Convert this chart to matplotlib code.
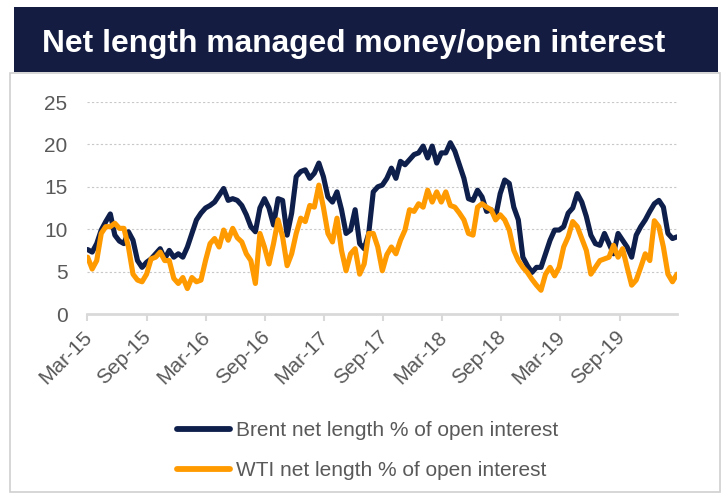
import matplotlib
matplotlib.use("Agg")
import matplotlib.pyplot as plt
import matplotlib.transforms as mtransforms
from matplotlib.patches import Rectangle
import pandas as pd

title = "Net length managed money/open interest"
series_names = ["Brent net length % of open interest", "WTI net length % of open interest"]

dates = pd.date_range("2015-03-03", periods=131, freq="14D")

brent = [7.6, 7.3, 8.3, 9.9, 10.9, 11.8, 9.3, 8.6, 8.3, 9.7,
         8.7, 6.3, 5.5, 6.1, 6.5, 7.1, 7.7, 6.5, 7.5, 6.7,
         7.1, 6.7, 7.9, 9.5, 11.1, 11.9, 12.5, 12.8, 13.2, 14.0,
         14.8, 13.4, 13.6, 13.4, 12.8, 11.7, 10.3, 9.7, 12.5, 13.6,
         12.5, 10.5, 13.6, 13.4, 9.3, 11.9, 16.2, 16.8, 17.0, 16.0,
         16.6, 17.8, 16.2, 13.8, 13.2, 14.4, 12.3, 9.5, 9.9, 12.3,
         8.3, 7.7, 9.5, 14.4, 15.0, 15.2, 16.0, 17.2, 16.0, 18.0,
         17.6, 18.2, 18.8, 19.0, 19.8, 18.4, 19.8, 17.8, 19.0, 19.0,
         20.2, 19.2, 17.6, 16.0, 13.6, 13.4, 14.6, 13.8, 12.1, 12.3,
         11.5, 14.2, 15.8, 15.4, 12.6, 11.1, 6.7, 5.7, 4.9, 5.5,
         5.5, 7.1, 8.7, 9.9, 9.9, 10.3, 11.9, 12.5, 14.2, 13.2,
         11.5, 9.3, 8.3, 8.1, 9.5, 8.3, 7.1, 9.5, 8.7, 7.9,
         6.7, 9.3, 10.3, 11.1, 12.1, 13.0, 13.4, 12.6, 9.5, 8.9,
         9.1]

wti = [6.7, 5.3, 6.3, 9.5, 10.3, 10.3, 10.7, 10.1, 10.1, 7.9,
       4.7, 4.0, 3.8, 4.7, 6.5, 6.7, 7.3, 6.3, 6.3, 4.2,
       3.6, 4.3, 3.0, 4.3, 3.8, 4.0, 6.3, 8.3, 8.9, 7.9,
       9.9, 8.7, 10.1, 9.0, 8.5, 7.1, 6.3, 3.6, 9.5, 7.9,
       5.9, 8.3, 11.1, 9.1, 5.7, 7.1, 9.5, 11.3, 10.9, 12.8,
       12.6, 15.2, 12.6, 9.5, 8.5, 11.3, 7.5, 5.1, 7.1, 7.7,
       4.7, 5.9, 9.5, 9.5, 7.9, 5.1, 7.0, 7.9, 7.1, 8.7,
       9.9, 12.3, 12.1, 13.0, 12.6, 14.6, 13.2, 14.4, 13.2, 14.4,
       12.8, 12.6, 11.9, 11.1, 9.5, 9.3, 12.6, 13.0, 12.6, 12.3,
       11.1, 11.7, 11.1, 9.9, 7.5, 6.3, 5.5, 4.9, 4.1, 3.4,
       2.8, 4.7, 5.5, 4.5, 5.5, 7.9, 9.1, 10.9, 10.3, 8.9,
       7.5, 4.7, 5.5, 6.3, 6.5, 6.7, 8.1, 6.7, 7.7, 5.5,
       3.4, 4.0, 5.5, 7.1, 6.3, 11.0, 10.3, 7.9, 4.7, 3.8,
       4.7]

tick_dates = pd.to_datetime(["2015-03-01", "2015-09-01", "2016-03-01", "2016-09-01",
                             "2017-03-01", "2017-09-01", "2018-03-01", "2018-09-01",
                             "2019-03-01", "2019-09-01"])
tick_labels = ["Mar-15", "Sep-15", "Mar-16", "Sep-16", "Mar-17", "Sep-17",
               "Mar-18", "Sep-18", "Mar-19", "Sep-19"]
y_ticks = [0, 5, 10, 15, 20, 25]

NAVY = "#0f1f4b"
ORANGE = "#ff9a00"
BANNER = "#141c42"
GREY_TXT = "#595959"

plt.rcParams["font.family"] = ["Liberation Sans", "DejaVu Sans"]

W, H = 725, 493
fig = plt.figure(figsize=(W / 100, H / 100), dpi=100)

def fx(px):
    return px / W

def fy(py):
    return 1 - py / H

# outer light box
fig.patches.append(Rectangle((fx(10), fy(492)), fx(710), fy(73) - fy(492),
                             transform=fig.transFigure, facecolor="white",
                             edgecolor="#d0d0d0", linewidth=1.2, zorder=-2))
# title banner
fig.patches.append(Rectangle((fx(14), fy(72)), fx(704), fy(7) - fy(72),
                             transform=fig.transFigure, facecolor=BANNER,
                             edgecolor="none", zorder=-1))
fig.text(fx(42), fy(52), title, color="white", fontsize=22.9, fontweight="bold",
         ha="left", va="baseline")

ax = fig.add_axes([fx(87), fy(314), fx(677) - fx(87), fy(102) - fy(314)])
ax.set_zorder(2)
ax.set_facecolor("none")

l1, = ax.plot(dates, brent, color=NAVY, lw=3.7, solid_joinstyle="round",
              solid_capstyle="round", zorder=3, label=series_names[0])
l2, = ax.plot(dates, wti, color=ORANGE, lw=3.7, solid_joinstyle="round",
              solid_capstyle="round", zorder=4, label=series_names[1])

ax.set_ylim(0, 25)
ax.set_xlim(pd.Timestamp("2015-03-01"), pd.Timestamp("2020-02-25"))
ax.set_yticks(y_ticks)
ax.set_yticklabels([str(v) for v in y_ticks])
ax.set_xticks(tick_dates)
ax.set_xticklabels(tick_labels, rotation=45, ha="right", va="top",
                   rotation_mode="anchor")

for v in y_ticks[1:]:
    ax.axhline(v, color="#c8c8c8", lw=0.8, ls=(0, (2, 2)), zorder=1)

for s in ["left", "right", "top"]:
    ax.spines[s].set_visible(False)
ax.spines["bottom"].set_color("#d9d9d9")
ax.spines["bottom"].set_linewidth(2)

ax.tick_params(axis="y", length=0, pad=14, labelsize=15, labelcolor=GREY_TXT)
ax.tick_params(axis="x", length=5, width=1.5, color="#d9d9d9", pad=6,
               labelsize=15, labelcolor=GREY_TXT)

shift = mtransforms.ScaledTranslation(-5 / 100, 2 / 100, fig.dpi_scale_trans)
for lbl in ax.get_xticklabels():
    lbl.set_transform(lbl.get_transform() + shift)

leg = fig.legend(handles=[l1, l2], loc="upper left", bbox_to_anchor=(fx(167), fy(411)),
                 frameon=False, fontsize=15, labelcolor=GREY_TXT, handlelength=2.5,
                 handletextpad=0.3, labelspacing=1.0, borderpad=0)
for lh in leg.get_lines():
    lh.set_linewidth(4.2)

fig.savefig("out.png", dpi=100)
